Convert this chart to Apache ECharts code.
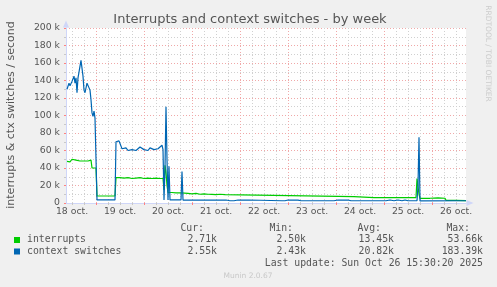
<!DOCTYPE html>
<html><head><meta charset="utf-8">
<script src="https://cdn.jsdelivr.net/npm/echarts@6/dist/echarts.min.js"></script>
<style>html,body{margin:0;padding:0;background:#f0f0f0;}#c{width:497px;height:287px;}</style>
</head><body><div id="c"></div>
<script>
// ---- text ----
const titleText = 'Interrupts and context switches - by week';
const yAxisTitle = 'interrupts & ctx switches / second';
const watermark = 'RRDTOOL / TOBI OETIKER';
const footer = 'Munin 2.0.67';
const lastUpdate = 'Last update: Sun Oct 26 15:30:20 2025';

// ---- x axis: hours since 18 oct 00:00 ----
const dayLabels = ['18 oct.', '19 oct.', '20 oct.', '21 oct.', '22 oct.', '23 oct.', '24 oct.', '25 oct.', '26 oct.'];
const dayLabelHours = [12, 36, 60, 84, 108, 132, 156, 180, 204];
const midnightHours = [24, 48, 72, 96, 120, 144, 168, 192];
const xMin = 9, xMax = 209;

// ---- y axis (thousands per second) ----
const yMax = 200, yStep = 20;

// ---- series: [hour, k/s] ----
const interrupts = [
  [9.5,47.5],[10,48],[11,47],[12,50],[12.5,48],[13,50],[14,49],[15,50],[16,48],[17,47],[18,48],[19,47],[20,48],[21,49],[21.5,49],
  [22,40],[23,40],[24,40],[24.5,8],[33.5,8],[34,29],[34.5,30],[36,29],[38,28.5],[40,29],[42,28],[44,28.5],[46,29],[48,28],[50,28.5],
  [52,28],[54,28.5],[56,28],[57.5,28],[58,15],[58.5,43],[59,35],[59.5,20],[60,12],[62,12],[64,11.5],[66.5,11.5],[67,12.5],[67.5,11],
  [70,11],[72,10.5],[74,11],[76,10],[78,10.5],[80,10],[82,9.8],[84,9.5],[86,10],[88.5,9.5],[89,7.3],[153,7.3],[153.5,6.2],[163,6.2],
  [163.5,8.3],[164,6.2],[172.5,6.2],[173,8.3],[173.5,6.2],[184,6.2],[184.5,28],[185,28],[185.5,10],[186,5.4],[191,5.4],[191.5,4.6],
  [192,5.4],[195,5.8],[195.5,5.4],[198.5,5.4],[199,3.1],[204,3.1],[204.5,2.71],[209,2.71]
];
const contextSwitches = [
  [9.5,130],[10.5,137],[11,134],[12,139],[13,145],[13.5,137],[14,143],[14.5,126],[15,143],[15.5,141],[16.5,163],[17.5,145],[18,129],
  [18.5,126],[19.5,137],[20.5,137],[21,129],[21.5,118],[22,103],[22.5,99],[23,105],[23.5,97],[24,96],[24.5,3.5],[33.5,3.5],[34,70],
  [34.5,71],[35,69],[35.5,71],[36,68],[36.5,65],[37,62],[37.5,63],[38,61],[39,63],[40,60],[41,62],[42,61],[43,63],[44,60],[45,62],
  [46,64],[47,62],[48,61],[49,62],[50,60],[51,63],[52,62],[53,61],[54,63],[55,62],[56,64],[57,66],[57.5,61],[58,3.5],[58.5,40],
  [59,110],[59.5,50],[60,3.5],[60.5,42],[61,3.5],[66.5,3.5],[67,36],[67.5,3.4],[89,3.4],[89.5,2.6],[91,2.6],[91.5,3.4],[93,2.6],
  [95,3.4],[96,2.6],[98,3.3],[99,2.6],[100.5,3.4],[101,2.6],[117,2.6],[117.5,3.4],[118.5,2.6],[120,3.4],[121,2.6],[123,3.4],[125,3.3],
  [126.5,2.6],[127.5,3.4],[128,2.6],[141,2.6],[141.5,3.4],[143,2.6],[145,3.4],[147,3.3],[148,2.6],[150,3.4],[151.5,2.6],[167,2.6],
  [167.5,3.4],[169,2.6],[171,3.4],[173,2.6],[175,3.4],[177,2.6],[178.5,3.4],[180,2.6],[184.5,2.7],[185,20],[185.5,75],[186,2.4],[209,2.55]
];

// ---- legend table ----
const seriesNames = ['interrupts', 'context switches'];
const seriesColors = ['#00cc00', '#0066b3'];
const colHeaders = ['Cur:', 'Min:', 'Avg:', 'Max:'];
const curVals = ['2.71k', '2.55k'];
const minVals = ['2.50k', '2.43k'];
const avgVals = ['13.45k', '20.82k'];
const maxVals = ['53.66k', '183.39k'];

const sixHourTicks = [];
for (let h = 12; h <= xMax; h += 6) if (h % 24 !== 0) sixHourTicks.push(h);

const FONT = '#555';
const AXIS = '#cfd6f8';
const MGRID = '#f0a8a8';
const GRID = '#d0d0d0';
const SANS = '"DejaVu Sans", sans-serif';
const MONO = '"DejaVu Sans Mono", monospace';

const graphics = [
  { type: 'text', style: { text: titleText, x: 250, y: 20, textAlign: 'center', textVerticalAlign: 'middle', font: '13px ' + SANS, fill: FONT } },
  { type: 'text', x: 11, y: 115, rotation: Math.PI / 2, style: { text: yAxisTitle, x: 0, y: 0, textAlign: 'center', textVerticalAlign: 'middle', font: '11px ' + SANS, fill: FONT } },
  { type: 'text', x: 487.5, y: 53.5, rotation: -Math.PI / 2, style: { text: watermark, x: 0, y: 0, textAlign: 'center', textVerticalAlign: 'middle', font: '7.5px ' + SANS, fill: '#cccccc' } },
  { type: 'text', style: { text: footer, x: 248, y: 276, textAlign: 'center', textVerticalAlign: 'middle', font: '7.5px ' + SANS, fill: '#c8c8c8' } },
  { type: 'text', style: { text: lastUpdate, x: 483, y: 263, textAlign: 'right', textVerticalAlign: 'middle', font: '9.8px ' + MONO, fill: FONT } }
];
const headerRight = [204, 293, 381, 470];
const valueRight = [217, 306, 394, 483];
colHeaders.forEach((h, i) => graphics.push({ type: 'text', style: { text: h, x: headerRight[i], y: 228, textAlign: 'right', textVerticalAlign: 'middle', font: '9.8px ' + MONO, fill: FONT } }));
const rowY = [239.5, 251];
const cols = [curVals, minVals, avgVals, maxVals];
seriesNames.forEach((n, r) => {
  graphics.push({ type: 'rect', shape: { x: 14, y: rowY[r] - 2.5, width: 6, height: 6 }, style: { fill: seriesColors[r] } });
  graphics.push({ type: 'text', style: { text: n, x: 27, y: rowY[r], textAlign: 'left', textVerticalAlign: 'middle', font: '9.8px ' + MONO, fill: FONT } });
  cols.forEach((c, i) => graphics.push({ type: 'text', style: { text: c[r], x: valueRight[i], y: rowY[r], textAlign: 'right', textVerticalAlign: 'middle', font: '9.8px ' + MONO, fill: FONT } }));
});

const chart = echarts.init(document.getElementById('c'), null, { renderer: 'canvas' });
chart.setOption({
  backgroundColor: '#f0f0f0',
  animation: false,
  grid: { left: 66, top: 28, width: 400, height: 175, show: true, backgroundColor: '#ffffff', borderWidth: 0 },
  xAxis: [
    {
      type: 'value', min: xMin, max: xMax, position: 'bottom',
      axisLine: { show: true, onZero: false, lineStyle: { color: AXIS, width: 1 }, symbol: ['none', 'triangle'], symbolSize: [6, 7], symbolOffset: [0, 4] },
      axisTick: { show: true, customValues: midnightHours, length: 2, lineStyle: { color: '#ff8080' } },
      axisLabel: { show: true, customValues: dayLabelHours, margin: 4, color: FONT, fontFamily: 'DejaVu Sans', fontSize: 9.3,
        formatter: v => dayLabels[dayLabelHours.indexOf(v)] || '' },
      splitLine: { show: true, lineStyle: { color: MGRID, type: [1, 2], width: 1 } }
    },
    {
      type: 'value', min: xMin, max: xMax, position: 'bottom',
      axisLine: { show: false },
      axisTick: { show: true, customValues: sixHourTicks, length: 2, lineStyle: { color: '#c8c8c8' } },
      axisLabel: { show: false },
      splitLine: { show: true, lineStyle: { color: GRID, type: [1, 2], width: 1 } }
    }
  ],
  yAxis: {
    type: 'value', min: 0, max: yMax, interval: yStep,
    axisLine: { show: true, lineStyle: { color: AXIS, width: 1 }, symbol: ['none', 'triangle'], symbolSize: [6, 7], symbolOffset: [0, 4] },
    axisTick: { show: true, length: 2, lineStyle: { color: '#ff8080' } },
    minorTick: { show: true, splitNumber: 2, length: 2, lineStyle: { color: '#c8c8c8' } },
    axisLabel: { margin: 6, color: FONT, fontFamily: 'DejaVu Sans', fontSize: 9.3, formatter: v => v === 0 ? '0' : v + ' k' },
    splitLine: { show: true, lineStyle: { color: MGRID, type: [1, 2], width: 1 } },
    minorSplitLine: { show: true, lineStyle: { color: GRID, type: [1, 2], width: 1 } }
  },
  series: [
    { name: seriesNames[0], type: 'line', xAxisIndex: 0, data: interrupts, showSymbol: false, symbol: 'none',
      lineStyle: { color: seriesColors[0], width: 1.2 }, z: 3 },
    { name: seriesNames[1], type: 'line', xAxisIndex: 0, data: contextSwitches, showSymbol: false, symbol: 'none',
      lineStyle: { color: seriesColors[1], width: 1.2 }, z: 4 }
  ],
  graphic: graphics
});
</script></body></html>
